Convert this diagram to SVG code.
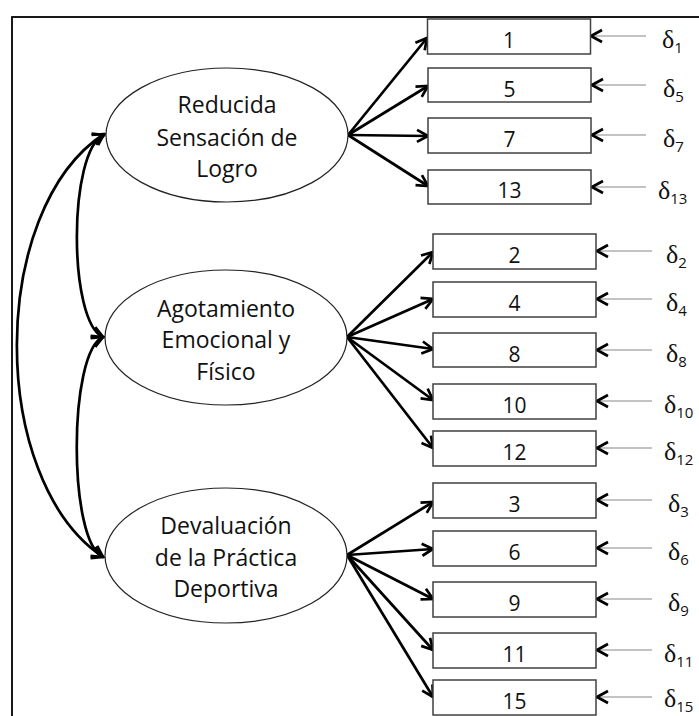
<svg xmlns="http://www.w3.org/2000/svg" width="699" height="716" viewBox="0 0 699 716">
<style>
.frame{fill:none;stroke:#000;stroke-width:1.8}
.lat{fill:#fff;stroke:#222;stroke-width:1.2}
.lt{font-family:"Open Sans","Noto Sans",sans-serif;font-size:23px;fill:#111;text-anchor:middle}
.box{fill:#fff;stroke:#404040;stroke-width:1.5}
.bt{font-family:"Open Sans","Noto Sans",sans-serif;font-size:21px;fill:#111;text-anchor:middle}
.ld{fill:none;stroke:#000;stroke-width:2.7;marker-end:url(#ah)}
.cv{fill:none;stroke:#000;stroke-width:2.7;marker-start:url(#ah);marker-end:url(#ah)}
.er{fill:none;stroke:#888;stroke-width:1.2;marker-end:url(#ahs)}
.dt{font-family:"Liberation Serif","DejaVu Serif",serif;font-size:26px;fill:#111}
.sub{font-family:"Open Sans","Noto Sans",sans-serif;font-size:15px}
</style>
<defs>
<marker id="ah" viewBox="-2 -2 15 16" refX="11" refY="6" markerWidth="15" markerHeight="16" markerUnits="userSpaceOnUse" orient="auto-start-reverse">
<path d="M0,0 L11,6 L0,12" fill="none" stroke="#000" stroke-width="2.7"/>
</marker>
<marker id="ahs" viewBox="-2 -2 15 16" refX="11" refY="6" markerWidth="15" markerHeight="16" markerUnits="userSpaceOnUse" orient="auto">
<path d="M0,0 L11,6 L0,12" fill="none" stroke="#000" stroke-width="2.7"/>
</marker>
</defs>
<rect class="frame" x="12" y="17" width="700" height="710"/>

<g id="connectors">
<path class="cv" d="M104,134 C-12,210 -12,480 103,557"/>
<path class="cv" d="M104,135 C68,150 68,322 103,337"/>
<path class="cv" d="M103,337 C68,352 68,542 103,557"/>
<line class="ld" x1="348" y1="135" x2="427" y2="38"/>
<line class="ld" x1="348" y1="135" x2="428" y2="86"/>
<line class="ld" x1="348" y1="135" x2="428" y2="136"/>
<line class="ld" x1="348" y1="135" x2="428" y2="186"/>
<line class="ld" x1="347" y1="337" x2="433" y2="252"/>
<line class="ld" x1="347" y1="337" x2="433" y2="299"/>
<line class="ld" x1="347" y1="337" x2="433" y2="349"/>
<line class="ld" x1="347" y1="337" x2="433" y2="400"/>
<line class="ld" x1="347" y1="337" x2="433" y2="448"/>
<line class="ld" x1="347" y1="555" x2="433" y2="502"/>
<line class="ld" x1="347" y1="555" x2="433" y2="549"/>
<line class="ld" x1="347" y1="555" x2="433" y2="599"/>
<line class="ld" x1="347" y1="555" x2="433" y2="650"/>
<line class="ld" x1="347" y1="555" x2="433" y2="697"/>
<line class="er" x1="646" y1="36" x2="591" y2="36"/>
<line class="er" x1="646" y1="85" x2="592" y2="85"/>
<line class="er" x1="646" y1="135" x2="592" y2="135"/>
<line class="er" x1="646" y1="187" x2="592" y2="187"/>
<line class="er" x1="652" y1="251" x2="597" y2="251"/>
<line class="er" x1="652" y1="299" x2="597" y2="299"/>
<line class="er" x1="652" y1="350" x2="597" y2="350"/>
<line class="er" x1="652" y1="401" x2="597" y2="401"/>
<line class="er" x1="652" y1="448" x2="597" y2="448"/>
<line class="er" x1="652" y1="500" x2="597" y2="500"/>
<line class="er" x1="652" y1="548" x2="597" y2="548"/>
<line class="er" x1="652" y1="599" x2="597" y2="599"/>
<line class="er" x1="652" y1="650" x2="597" y2="650"/>
<line class="er" x1="652" y1="697" x2="597" y2="697"/>
</g>

<g id="F1"><ellipse class="lat" cx="227" cy="135" rx="121" ry="67"/>
<text class="lt" x="227" y="113">Reducida</text><text class="lt" x="227" y="146">Sensación de</text><text class="lt" x="227" y="177">Logro</text></g>
<g id="F2"><ellipse class="lat" cx="226" cy="337.5" rx="121" ry="67.5"/>
<text class="lt" x="226" y="317">Agotamiento</text><text class="lt" x="226" y="348">Emocional y</text><text class="lt" x="226" y="380">Físico</text></g>
<g id="F3"><ellipse class="lat" cx="226" cy="555.5" rx="121" ry="67.5"/>
<text class="lt" x="226" y="534">Devaluación</text><text class="lt" x="226" y="566">de la Práctica</text><text class="lt" x="226" y="597">Deportiva</text></g>

<g id="i1"><rect class="box" x="427.5" y="19" width="163" height="35"/><text class="bt" x="509" y="47.5">1</text></g>
<g id="i5"><rect class="box" x="428" y="68" width="163" height="34"/><text class="bt" x="509.5" y="96.5">5</text></g>
<g id="i7"><rect class="box" x="428" y="118" width="163" height="35"/><text class="bt" x="509.5" y="146.5">7</text></g>
<g id="i13"><rect class="box" x="428" y="170" width="163" height="34"/><text class="bt" x="509.5" y="198">13</text></g>
<g id="i2"><rect class="box" x="433" y="234" width="163" height="35"/><text class="bt" x="514.5" y="262.5">2</text></g>
<g id="i4"><rect class="box" x="433" y="282" width="163" height="35"/><text class="bt" x="514.5" y="310.5">4</text></g>
<g id="i8"><rect class="box" x="433" y="333" width="163" height="34"/><text class="bt" x="514.5" y="361.5">8</text></g>
<g id="i10"><rect class="box" x="433" y="384" width="163" height="35"/><text class="bt" x="514.5" y="412.5">10</text></g>
<g id="i12"><rect class="box" x="433" y="431" width="163" height="35"/><text class="bt" x="514.5" y="459.5">12</text></g>
<g id="i3"><rect class="box" x="433" y="483" width="163" height="35"/><text class="bt" x="514.5" y="511.5">3</text></g>
<g id="i6"><rect class="box" x="433" y="531" width="163" height="35"/><text class="bt" x="514.5" y="559.5">6</text></g>
<g id="i9"><rect class="box" x="433" y="582" width="163" height="35"/><text class="bt" x="514.5" y="610.5">9</text></g>
<g id="i11"><rect class="box" x="433" y="633" width="163" height="35"/><text class="bt" x="514.5" y="661.5">11</text></g>
<g id="i15"><rect class="box" x="433" y="680" width="163" height="35"/><text class="bt" x="514.5" y="708.5">15</text></g>

<g id="deltas">
<text class="dt" x="662" y="48">δ<tspan class="sub" dy="5">1</tspan></text>
<text class="dt" x="663" y="97">δ<tspan class="sub" dy="5">5</tspan></text>
<text class="dt" x="663" y="147">δ<tspan class="sub" dy="5">7</tspan></text>
<text class="dt" x="658" y="199">δ<tspan class="sub" dy="5">13</tspan></text>
<text class="dt" x="666" y="263">δ<tspan class="sub" dy="5">2</tspan></text>
<text class="dt" x="666" y="311">δ<tspan class="sub" dy="5">4</tspan></text>
<text class="dt" x="666" y="362">δ<tspan class="sub" dy="5">8</tspan></text>
<text class="dt" x="664" y="413">δ<tspan class="sub" dy="5">10</tspan></text>
<text class="dt" x="664" y="460">δ<tspan class="sub" dy="5">12</tspan></text>
<text class="dt" x="668" y="512">δ<tspan class="sub" dy="5">3</tspan></text>
<text class="dt" x="668" y="560">δ<tspan class="sub" dy="5">6</tspan></text>
<text class="dt" x="668" y="611">δ<tspan class="sub" dy="5">9</tspan></text>
<text class="dt" x="664" y="662">δ<tspan class="sub" dy="5">11</tspan></text>
<text class="dt" x="664" y="707">δ<tspan class="sub" dy="5">15</tspan></text>
</g>
</svg>
